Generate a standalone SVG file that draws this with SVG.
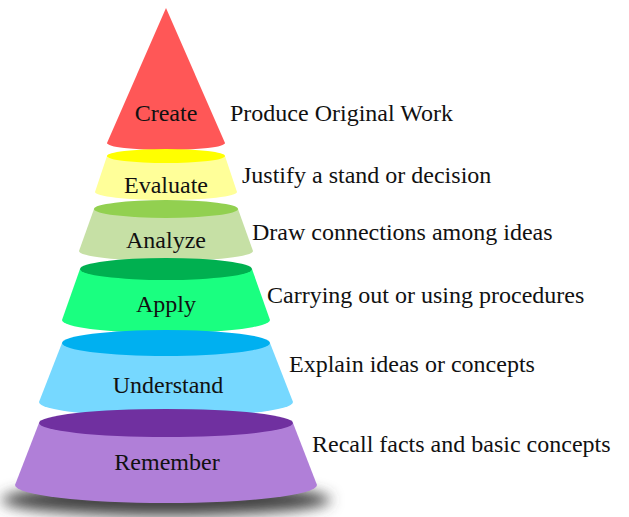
<svg xmlns="http://www.w3.org/2000/svg" width="629" height="517" viewBox="0 0 629 517">
<defs>
<filter id="blur" x="-20%" y="-100%" width="140%" height="300%"><feGaussianBlur stdDeviation="7"/></filter>
</defs>
<style>
.lbl{font-family:"Liberation Serif","Times New Roman",serif;font-size:24px;fill:#111;}
.mid{text-anchor:middle;}
</style>
<rect width="629" height="517" fill="#ffffff"/>
<ellipse cx="166" cy="500" rx="165" ry="16" fill="#444" filter="url(#blur)"/>
<g id="create">
<path d="M166 8 L107 143 A59 7 0 0 0 225 143 Z" fill="#ff5757"/>
<text class="lbl mid" x="166" y="121">Create</text>
<text class="lbl" x="230" y="121">Produce Original Work</text>
</g>
<g id="evaluate">
<path d="M107 156 L95 192 A71 8 0 0 0 237 192 L225 156 Z" fill="#ffff99"/>
<ellipse cx="166" cy="156" rx="59" ry="7" fill="#ffff00"/>
<text class="lbl mid" x="166" y="193">Evaluate</text>
<text class="lbl" x="242" y="183">Justify a stand or decision</text>
</g>
<g id="analyze">
<path d="M94 209 L79 251 A87 10 0 0 0 253 251 L238 209 Z" fill="#c6e0a5"/>
<ellipse cx="166" cy="209" rx="72" ry="9" fill="#92d050"/>
<text class="lbl mid" x="166" y="248">Analyze</text>
<text class="lbl" x="252" y="240">Draw connections among ideas</text>
</g>
<g id="apply">
<path d="M80 269 L62 320 A104 13 0 0 0 270 320 L252 269 Z" fill="#1aff80"/>
<ellipse cx="166" cy="269" rx="86" ry="11" fill="#00b050"/>
<text class="lbl mid" x="166" y="312">Apply</text>
<text class="lbl" x="267" y="303">Carrying out or using procedures</text>
</g>
<g id="understand">
<path d="M62 343 L39 402 A127 15 0 0 0 293 402 L270 343 Z" fill="#76d8ff"/>
<ellipse cx="166" cy="343" rx="104" ry="13" fill="#00b0f0"/>
<text class="lbl mid" x="168" y="393">Understand</text>
<text class="lbl" x="289" y="372">Explain ideas or concepts</text>
</g>
<g id="remember">
<path d="M39 423 L15 485 A151 18 0 0 0 317 485 L293 423 Z" fill="#b07fd8"/>
<ellipse cx="166" cy="423" rx="127" ry="14" fill="#7030a0"/>
<text class="lbl mid" x="167" y="470">Remember</text>
<text class="lbl" x="312" y="452">Recall facts and basic concepts</text>
</g>
<g id="connectors"/>
</svg>
